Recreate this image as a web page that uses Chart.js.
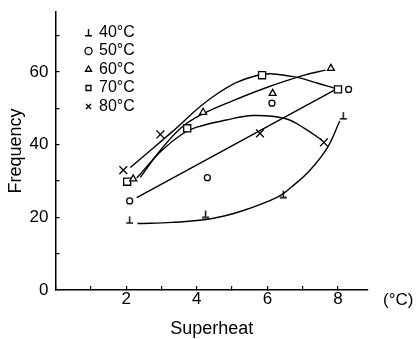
<!DOCTYPE html>
<html lang="en">
<head>
  <meta charset="UTF-8">
  <title>Frequency vs Superheat</title>
  <script src="https://cdn.jsdelivr.net/npm/chart.js"></script>
  <style>
    html, body { margin: 0; padding: 0; background: #fff; }
    .chart-container { position: relative; width: 417px; height: 339px; }
  </style>
</head>
<body>
  <div class="chart-container">
    <canvas id="freqChart"></canvas>
  </div>

  <script>
    // legend labels (refrigerant temperature)
    const tempLabels = ['40°C', '50°C', '60°C', '70°C', '80°C'];

    // measured points: superheat (°C) / frequency
    const sh40 = [2.1, 4.25, 6.45, 8.15];
    const fr40 = [19.3, 20.9, 26.4, 48];
    const sh50 = [2.1, 4.3, 6.13, 8.3];
    const fr50 = [24.5, 30.9, 51.4, 55.2];
    const sh60 = [2.2, 4.18, 6.15, 7.8];
    const fr60 = [30.6, 48.9, 54.1, 61];
    const sh70 = [2.03, 3.73, 5.85, 8.0];
    const fr70 = [29.8, 44.5, 59.1, 55.2];
    const sh80 = [1.92, 2.97, 5.79, 7.6];
    const fr80 = [33, 42.8, 43.1, 40.6];

    // hand-drawn trend curves
    const curve40x = [2.32, 3.3, 4.4, 5.3, 6.3, 6.7, 7.2, 7.7, 8.05];
    const curve40y = [18.3, 18.6, 19.6, 21.8, 25.6, 28.5, 32.9, 39.2, 46.5];
    const curve50x = [2.3, 7.9];
    const curve50y = [25.4, 55];
    const curve60x = [2.4, 3.0, 3.6, 4.2, 5.0, 6.0, 7.0, 7.65];
    const curve60y = [31, 38.8, 45, 48.6, 52, 55.8, 59, 60.5];
    const curve70x = [2.12, 3.25, 4.52, 5.73, 6.69, 7.43, 7.91];
    const curve70y = [33.7, 43.1, 53.6, 59.1, 58.8, 56.9, 55.5];
    const curve80x = [2.3, 3.0, 3.6, 4.0, 4.8, 5.6, 6.5, 7.05, 7.55];
    const curve80y = [30.8, 38.3, 43, 44.8, 46.7, 48, 47.2, 44.5, 41.2];

    const pts = (xs, ys) => xs.map((x, i) => ({ x: x, y: ys[i] }));

    // the upside-down T marker used for 40°C
    function teeMarker() {
      const c = document.createElement('canvas');
      c.width = 9; c.height = 9;
      const g = c.getContext('2d');
      g.strokeStyle = '#000';
      g.lineWidth = 1.4;
      g.beginPath();
      g.moveTo(4.5, 1); g.lineTo(4.5, 8);
      g.moveTo(1, 7.8); g.lineTo(8, 7.8);
      g.stroke();
      return c;
    }

    function markers(label, xs, ys, style, radius) {
      return {
        label: label,
        data: pts(xs, ys),
        showLine: false,
        pointStyle: style,
        pointRadius: radius,
        pointBorderWidth: 1.3,
        borderColor: '#000',
        backgroundColor: '#fff'
      };
    }

    function curve(xs, ys) {
      return {
        label: '',
        data: pts(xs, ys),
        showLine: true,
        pointRadius: 0,
        borderColor: '#000',
        borderWidth: 1.4,
        tension: 0.4,
        fill: false
      };
    }

    // "(°C)" unit written after the x axis
    const unitLabel = {
      id: 'unitLabel',
      afterDraw(chart) {
        const { ctx, scales: { x } } = chart;
        ctx.save();
        ctx.font = '17px "Liberation Sans"';
        ctx.fillStyle = '#000';
        ctx.textBaseline = 'middle';
        ctx.fillText('(°C)', x.right + 15, x.top + 10);
        ctx.restore();
      }
    };

    // put the legend inside the plot, upper left
    const legendSpot = {
      id: 'legendSpot',
      afterLayout(chart) {
        const lg = chart.legend;
        lg.left = chart.chartArea.left + 28;
        lg.top = chart.chartArea.top + 10;
      }
    };

    const font = '"Liberation Sans", sans-serif';

    new Chart(document.getElementById('freqChart'), {
      type: 'scatter',
      data: {
        datasets: [
          markers(tempLabels[0], sh40, fr40, teeMarker(), 4.5),
          markers(tempLabels[1], sh50, fr50, 'circle', 3),
          markers(tempLabels[2], sh60, fr60, 'triangle', 4),
          markers(tempLabels[3], sh70, fr70, 'rect', 5),
          markers(tempLabels[4], sh80, fr80, 'crossRot', 5.5),
          curve(curve40x, curve40y),
          curve(curve50x, curve50y),
          curve(curve60x, curve60y),
          curve(curve70x, curve70y),
          curve(curve80x, curve80y)
        ]
      },
      options: {
        responsive: true,
        maintainAspectRatio: false,
        animation: false,
        layout: { padding: { left: 5, right: 49, top: 12, bottom: 2 } },
        plugins: {
          tooltip: { enabled: false },
          legend: {
            position: 'chartArea',
            align: 'start',
            labels: {
              usePointStyle: true,
              boxWidth: 5,
              boxHeight: 5,
              padding: 2.5,
              color: '#000',
              font: { family: font, size: 16 },
              filter: (item) => item.datasetIndex < 5
            }
          }
        },
        scales: {
          x: {
            type: 'linear',
            min: 0,
            max: 8.85,
            border: { color: '#000', width: 1.5 },
            grid: { drawOnChartArea: false, color: '#000', lineWidth: 1.2, tickLength: -4 },
            ticks: {
              stepSize: 1,
              includeBounds: false,
              padding: 3.5,
              color: '#000',
              maxRotation: 0,
              autoSkip: false,
              font: { family: font, size: 17 },
              callback: (v) => (v > 0 && v % 2 === 0 ? v : '')
            },
            title: {
              display: true,
              text: 'Superheat',
              color: '#000',
              font: { family: font, size: 18 },
              padding: { top: 5, bottom: -3 }
            }
          },
          y: {
            type: 'linear',
            min: 0,
            max: 76.5,
            border: { color: '#000', width: 1.5 },
            grid: { drawOnChartArea: false, color: '#000', lineWidth: 1.2, tickLength: -4 },
            ticks: {
              stepSize: 10,
              includeBounds: false,
              padding: 11,
              color: '#000',
              autoSkip: false,
              font: { family: font, size: 17, lineHeight: 0.1 },
              callback: (v) => (v % 20 === 0 ? v : '')
            },
            title: {
              display: true,
              text: 'Frequency',
              color: '#000',
              font: { family: font, size: 18 },
              padding: { top: 0, bottom: -8 }
            }
          }
        }
      },
      plugins: [unitLabel, legendSpot]
    });
  </script>
</body>
</html>
